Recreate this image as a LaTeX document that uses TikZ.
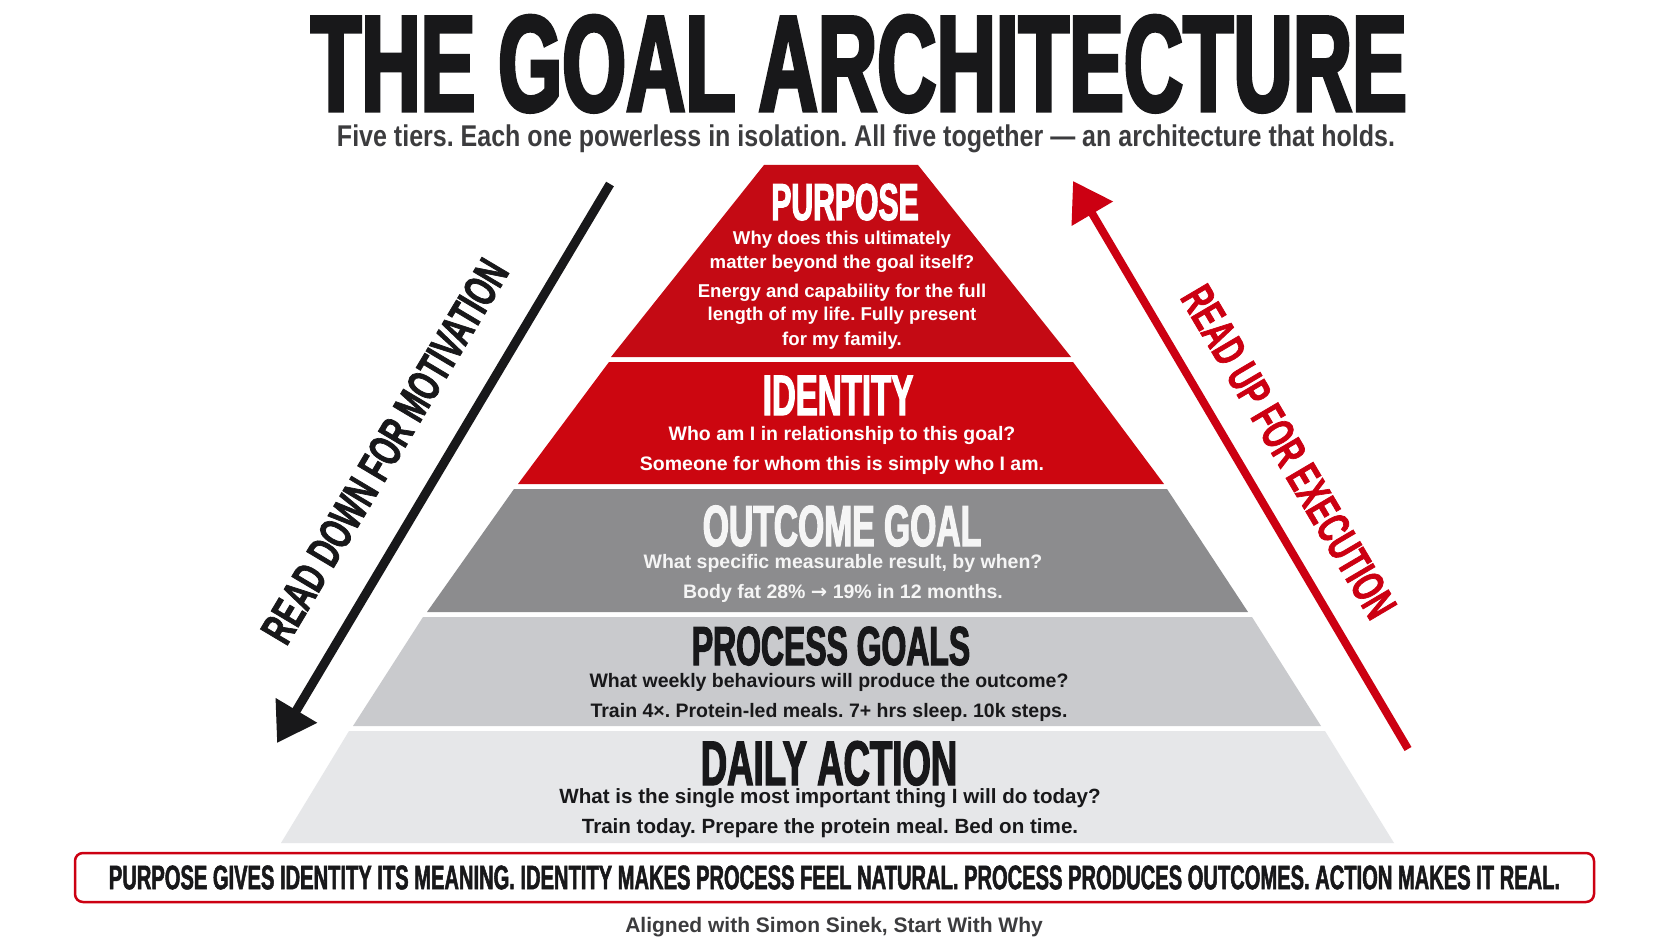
\documentclass[tikz,border=0pt]{standalone}
\usepackage{fontspec}
\setmainfont{Liberation Sans}
\newfontfamily\titlefont[FakeStretch=0.6,FakeBold=2.5]{Liberation Sans}
\newfontfamily\headfont[FakeStretch=0.58,FakeBold=2]{Liberation Sans}
\newfontfamily\subfont[FakeStretch=0.834]{Liberation Sans}
\newfontfamily\boxfont[FakeStretch=0.592,FakeBold=1.5]{Liberation Sans}
\newfontfamily\arrowfont[FakeStretch=0.63,FakeBold=1.5]{Liberation Sans}
\newfontfamily\symfont{DejaVu Sans}
\frenchspacing
\usetikzlibrary{arrows.meta}
\definecolor{purposered}{RGB}{196,10,20}
\definecolor{identityred}{RGB}{204,6,16}
\definecolor{outcomegray}{RGB}{140,140,142}
\definecolor{processgray}{RGB}{201,202,205}
\definecolor{dailygray}{RGB}{230,231,233}
\definecolor{inkblack}{RGB}{24,24,26}
\definecolor{arrowred}{RGB}{204,0,18}
\definecolor{subgray}{RGB}{60,60,62}
\tikzset{
  heading/.style={anchor=base, inner sep=0pt, font=\headfont\bfseries\fontsize{#1}{#1}\selectfont},
  body/.style={anchor=base, inner sep=0pt, font=\bfseries\fontsize{#1}{#1}\selectfont},
  readarrow/.style={line width=9pt, -{Triangle[length=38pt,width=46pt]}},
  readlabel/.style={sloped, inner sep=0pt, font=\arrowfont\bfseries\fontsize{46}{46}\selectfont}
}

\begin{document}
\begin{tikzpicture}[x=1pt,y=-1pt]
        \fill[white] (0,0) rectangle (1672,941);
        \useasboundingbox (0,0) rectangle (1672,941);

        \node[anchor=base, inner sep=0pt, text=inkblack, font=\titlefont\bfseries\fontsize{137}{137}\selectfont] (title) at (859,111) {THE GOAL ARCHITECTURE};
        \node[anchor=base, inner sep=0pt, text=subgray, font=\subfont\bfseries\fontsize{30}{30}\selectfont] (subtitle) at (866,147) {Five tiers. Each one powerless in isolation. All five together — an architecture that holds.};

        % tiers
        \fill[purposered] (764,165) -- (918,165) -- (1071,357) -- (611,357) -- cycle;
        \fill[identityred] (609,362) -- (1073,362) -- (1164,484) -- (518,484) -- cycle;
        \fill[outcomegray] (514,489) -- (1167,489) -- (1248,612) -- (427,612) -- cycle;
        \fill[processgray] (423,617) -- (1252,617) -- (1321,726) -- (353,726) -- cycle;
        \fill[dailygray] (349,731) -- (1325,731) -- (1394,843) -- (281,843) -- cycle;

        \node[heading=52, text=white] (purpose) at (845,220) {PURPOSE};
        \node[body=18.6, text=white] (purposeQa) at (842,245) {Why does this ultimately};
        \node[body=18.6, text=white] (purposeQb) at (842,269) {matter beyond the goal itself?};
        \node[body=18.6, text=white] (purposeAa) at (842,297) {Energy and capability for the full};
        \node[body=18.6, text=white] (purposeAb) at (842,320) {length of my life. Fully present};
        \node[body=18.6, text=white] (purposeAc) at (842,345) {for my family.};

        \node[heading=57, text=white] (identity) at (838,415) {IDENTITY};
        \node[body=19.5, text=white] (identityQ) at (842,440) {Who am I in relationship to this goal?};
        \node[body=19.5, text=white] (identityA) at (842,470) {Someone for whom this is simply who I am.};

        \node[heading=58, text=white!96!black] (outcome) at (842,546) {OUTCOME GOAL};
        \node[body=19.5, text=white!96!black] (outcomeQ) at (843,568) {What specific measurable result, by when?};
        \node[body=19.5, text=white!96!black] (outcomeA) at (843,598) {Body fat 28\% {\symfont\bfseries →} 19\% in 12 months.};

        \node[heading=55, text=inkblack] (process) at (831,665) {PROCESS GOALS};
        \node[body=19.5, text=inkblack] (processQ) at (829,687) {What weekly behaviours will produce the outcome?};
        \node[body=19.5, text=inkblack] (processA) at (829,717) {Train 4×. Protein-led meals. 7+ hrs sleep. 10k steps.};

        \node[heading=63, text=inkblack] (daily) at (829,785) {DAILY ACTION};
        \node[body=20.6, text=inkblack] (dailyQ) at (830,803) {What is the single most important thing I will do today?};
        \node[body=20.6, text=inkblack] (dailyA) at (830,833) {Train today. Prepare the protein meal. Bed on time.};

        % reading directions
        \coordinate (downStart) at (610,184);
        \coordinate (downEnd) at (277,743);
        \draw[readarrow, inkblack] (downStart) -- node[readlabel, pos=0.53, above=36pt, text=inkblack] (downLabel) {READ DOWN FOR MOTIVATION} (downEnd);

        \coordinate (upStart) at (1408,749);
        \coordinate (upEnd) at (1073,181);
        \draw[readarrow, arrowred, line width=8pt] (upStart) -- node[readlabel, pos=0.48, above=28pt, text=arrowred] (upLabel) {READ UP FOR EXECUTION} (upEnd);

        \node[draw=arrowred, line width=2.5pt, rounded corners=8pt, minimum width=1519pt, minimum height=49pt, inner sep=0pt, text=inkblack, font=\boxfont\bfseries\fontsize{34}{34}\selectfont] (motto) at (834.5,877.5) {PURPOSE GIVES IDENTITY ITS MEANING. IDENTITY MAKES PROCESS FEEL NATURAL. PROCESS PRODUCES OUTCOMES. ACTION MAKES IT REAL.};

        \node[anchor=base, inner sep=0pt, text=subgray, font=\bfseries\fontsize{21}{21}\selectfont] (source) at (834,932) {Aligned with Simon Sinek, Start With Why};
\end{tikzpicture}
\end{document}
